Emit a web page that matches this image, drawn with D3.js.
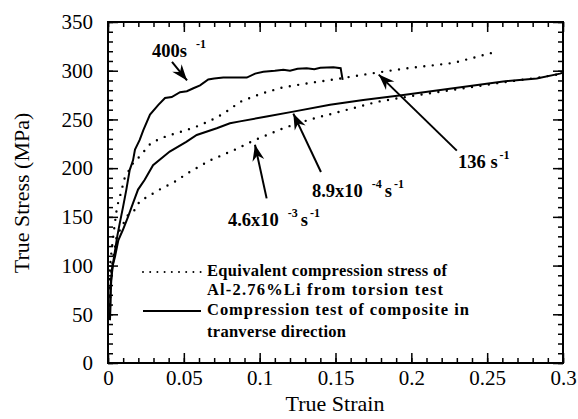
<!DOCTYPE html>
<html>
<head>
<script src="https://d3js.org/d3.v7.min.js"></script>
<style>
  body { margin: 0; background: #fff; }
  svg { font-family: "Liberation Serif", "Times New Roman", serif; }
</style>
</head>
<body>
<svg width="578" height="419"></svg>
<script>
// strain / stress pairs
var rate400 = [[0.0013,44],[0.0018,75],[0.0026,96],[0.0040,109],[0.0061,130],[0.0077,143],[0.0099,160],
  [0.0121,178],[0.0143,198],[0.0165,208],[0.0178,219],[0.0209,229],[0.0233,239],[0.0277,255],[0.0332,265],
  [0.0376,272],[0.0420,273],[0.0475,278],[0.0520,279],[0.0563,282],[0.0607,285],[0.0661,291],[0.0700,292],
  [0.0760,293],[0.0850,293],[0.0915,293],[0.0970,297],[0.1024,299],[0.1100,300],[0.1156,301],[0.1200,300],
  [0.1250,302],[0.1310,302.5],[0.1360,301.5],[0.1400,303],[0.1486,303.6],[0.1534,302.6],[0.1547,290.6]];
var rate136 = [[0.0010,60],[0.0013,99],[0.0024,116],[0.0040,137],[0.0055,155],[0.0066,164],[0.0084,174],
  [0.0110,190],[0.0165,205],[0.0209,212],[0.0285,226],[0.0387,233],[0.0496,238],[0.0607,244],[0.0717,252],
  [0.0800,260],[0.0870,268],[0.1002,276],[0.1088,280],[0.1156,283],[0.1354,288],[0.1530,292],[0.1727,297],
  [0.1947,302],[0.2277,308],[0.2573,320]];
var rate89e4 = [[0.0013,44],[0.0018,82],[0.0033,101],[0.0046,109],[0.0068,126],[0.0099,137],[0.0132,150],
  [0.0165,164],[0.0198,178],[0.0242,188],[0.0297,203],[0.0407,217],[0.0516,227],[0.0585,234],[0.0717,241],
  [0.0804,246],[0.0870,248],[0.1046,253],[0.1222,258],[0.1464,265],[0.1683,270],[0.1947,275],[0.2277,282],
  [0.2606,289],[0.2827,292],[0.2980,297],[0.3000,298]];
var rate46e3 = [[0.0013,50],[0.0018,89],[0.0035,109],[0.0057,130],[0.0101,143],[0.0132,152],[0.0176,157],
  [0.0209,166],[0.0264,171],[0.0351,179],[0.0440,186],[0.0527,195],[0.0673,208],[0.0837,219],[0.0969,229],
  [0.1156,241],[0.1332,250],[0.1530,258],[0.1772,268],[0.2000,274],[0.2300,281],[0.2600,288],[0.2800,292],
  [0.3000,297]];

var xMajor = [0, 0.05, 0.1, 0.15, 0.2, 0.25, 0.3];
var xTickLabels = ["0", "0.05", "0.1", "0.15", "0.2", "0.25", "0.3"];
var yMajor = [0, 50, 100, 150, 200, 250, 300, 350];
var yTickLabels = ["0", "50", "100", "150", "200", "250", "300", "350"];
var xMinor = d3.range(0, 31).map(function(i) { return i / 100; });
var yMinor = d3.range(0, 36).map(function(i) { return i * 10; });

// rate labels: text anchor, arrow tail and arrow tip, in data units
var rateLabels = [
  { base: "400s", exp1: "-1", at: [0.0290, 314], tail: [0.0422, 309], tip: [0.0521, 290] },
  { base: "136", sp: " s", exp2: "-1", at: [0.2308, 200], tail: [0.2300, 218], tip: [0.1785, 296] },
  { base: "8.9x10", exp1: "-4", sp: "s", exp2: "-1", at: [0.1345, 170], tail: [0.1404, 196], tip: [0.1222, 256] },
  { base: "4.6x10", exp1: "-3", sp: "s", exp2: "-1", at: [0.0791, 141], tail: [0.1046, 169], tip: [0.0969, 224] }
];

var svg = d3.select("svg");
var x = d3.scaleLinear().domain([0, 0.3]).range([108, 563]);
var y = d3.scaleLinear().domain([0, 350]).range([363, 22]);

// minor ticks on all four sides
function minorAxis(axis, vals, g) {
  g.call(axis.tickValues(vals).tickSizeInner(-5).tickSizeOuter(0).tickFormat(""));
  g.select(".domain").remove();
  g.selectAll("line").attr("stroke-width", 1.5);
}
minorAxis(d3.axisBottom(x), xMinor, svg.append("g").attr("transform", "translate(0,363)"));
minorAxis(d3.axisTop(x), xMinor, svg.append("g").attr("transform", "translate(0,22)"));
minorAxis(d3.axisLeft(y), yMinor, svg.append("g").attr("transform", "translate(108,0)"));
minorAxis(d3.axisRight(y), yMinor, svg.append("g").attr("transform", "translate(563,0)"));

// major ticks + labels
var gx = svg.append("g").attr("transform", "translate(0,363)")
  .call(d3.axisBottom(x).tickValues(xMajor).tickSizeInner(-10).tickSizeOuter(0).tickPadding(7)
    .tickFormat(function(d, i) { return xTickLabels[i]; }));
var gy = svg.append("g").attr("transform", "translate(108,0)")
  .call(d3.axisLeft(y).tickValues(yMajor).tickSizeInner(-10).tickSizeOuter(0).tickPadding(15)
    .tickFormat(function(d, i) { return yTickLabels[i]; }));
var gxt = svg.append("g").attr("transform", "translate(0,22)")
  .call(d3.axisTop(x).tickValues(xMajor).tickSizeInner(-10).tickSizeOuter(0).tickFormat(""));
var gyr = svg.append("g").attr("transform", "translate(563,0)")
  .call(d3.axisRight(y).tickValues(yMajor).tickSizeInner(-10).tickSizeOuter(0).tickFormat(""));
[gx, gy, gxt, gyr].forEach(function(g) {
  g.select(".domain").remove();
  g.selectAll("line").attr("stroke-width", 1.5);
  g.selectAll("text").attr("font-family", "Liberation Serif").attr("font-size", 21).attr("fill", "#000");
});

svg.append("rect")
  .attr("x", x(0)).attr("y", y(350))
  .attr("width", x(0.3) - x(0)).attr("height", y(0) - y(350))
  .attr("fill", "none").attr("stroke", "#000").attr("stroke-width", 2);

// curves
var line = d3.line().x(function(d) { return x(d[0]); }).y(function(d) { return y(d[1]); });
var curves = svg.append("g").attr("fill", "none").attr("stroke", "#000");
curves.append("path").datum(rate46e3).attr("d", line)
  .attr("stroke-width", 2.4).attr("stroke-dasharray", "0,8.5").attr("stroke-linecap", "round");
curves.append("path").datum(rate136).attr("d", line)
  .attr("stroke-width", 2.4).attr("stroke-dasharray", "0,8.5").attr("stroke-linecap", "round");
curves.append("path").datum(rate89e4).attr("d", line).attr("stroke-width", 2);
curves.append("path").datum(rate400).attr("d", line).attr("stroke-width", 2);

// arrows with labels
var notes = svg.append("g").attr("font-weight", "bold").attr("fill", "#000");
rateLabels.forEach(function(r) {
  var x0 = x(r.tail[0]), y0 = y(r.tail[1]), x1 = x(r.tip[0]), y1 = y(r.tip[1]);
  var ang = Math.atan2(y1 - y0, x1 - x0) * 180 / Math.PI;
  notes.append("line").attr("x1", x0).attr("y1", y0).attr("x2", x1).attr("y2", y1)
    .attr("stroke", "#000").attr("stroke-width", 2);
  notes.append("path").attr("d", "M0,0L-16,-6L-11,0L-16,6Z")
    .attr("transform", "translate(" + x1 + "," + y1 + ")rotate(" + ang + ")");
  var t = notes.append("text").attr("x", x(r.at[0])).attr("y", y(r.at[1])).attr("font-size", 18.5);
  t.append("tspan").text(r.base);
  if (r.exp1) t.append("tspan").attr("dx", 9).attr("dy", -9).attr("font-size", 12).text(r.exp1);
  if (r.sp) t.append("tspan").attr("dx", r.exp1 ? 3 : 0).attr("dy", r.exp1 ? 9 : 0).text(r.sp);
  if (r.exp2) t.append("tspan").attr("dx", 2).attr("dy", -9).attr("font-size", 12).text(r.exp2);
});

// legend
var leg = svg.append("g");
leg.append("line").attr("x1", 143).attr("x2", 201).attr("y1", 272).attr("y2", 272)
  .attr("stroke", "#000").attr("stroke-width", 2).attr("stroke-dasharray", "0,7.2").attr("stroke-linecap", "round");
leg.append("line").attr("x1", 143).attr("x2", 201).attr("y1", 311).attr("y2", 311)
  .attr("stroke", "#000").attr("stroke-width", 2);
// text, baseline, width on the page
var legText = [["Equivalent compression stress of", 276, 240], ["Al-2.76%Li from torsion test", 295, 236],
  ["Compression test of composite in", 315, 262], ["tranverse direction", 337, 139]];
leg.selectAll("text").data(legText).enter().append("text")
  .attr("x", 207).attr("y", function(d) { return d[1]; })
  .attr("font-size", 16.5).attr("font-weight", "bold")
  .attr("textLength", function(d) { return d[2]; }).attr("lengthAdjust", "spacing")
  .text(function(d) { return d[0]; });

// axis titles
svg.append("text").attr("x", 335).attr("y", 411).attr("text-anchor", "middle")
  .attr("font-size", 22).text("True Strain");
svg.append("text").attr("transform", "translate(29,193)rotate(-90)").attr("text-anchor", "middle")
  .attr("font-size", 22).text("True Stress (MPa)");
</script>
</body>
</html>
